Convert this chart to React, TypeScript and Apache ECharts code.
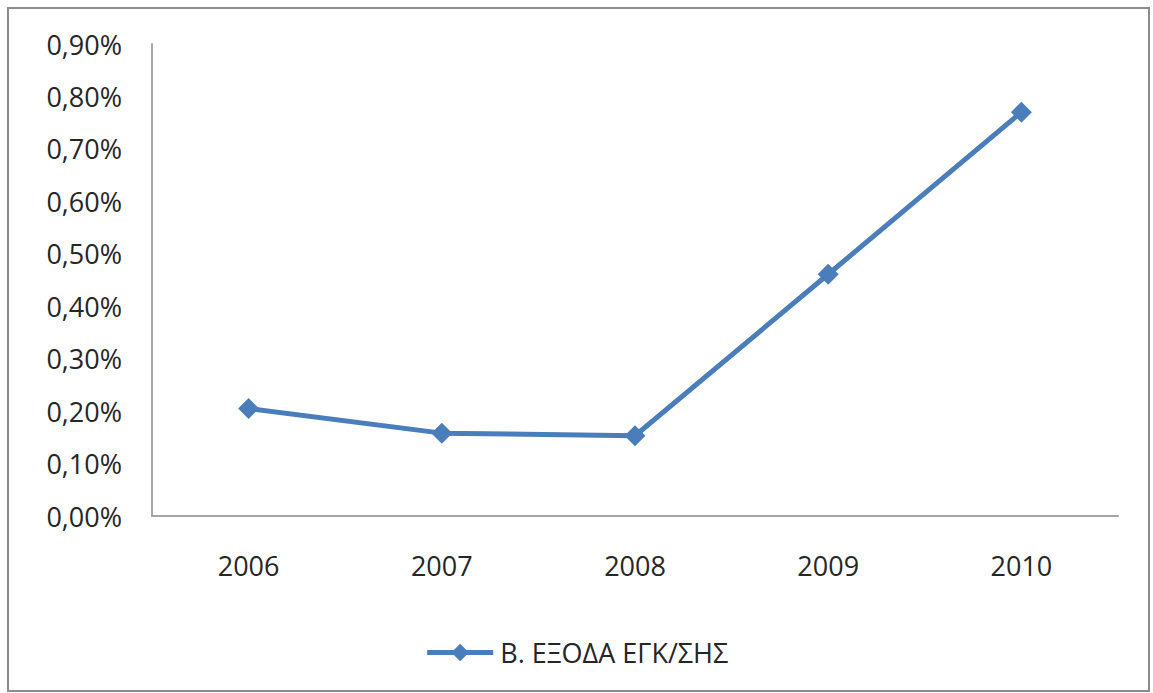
import React, { useEffect, useRef } from "react";
import * as echarts from "echarts";

const years = ["2006", "2007", "2008", "2009", "2010"];
const seriesName = "Β. ΕΞΟΔΑ ΕΓΚ/ΣΗΣ";
const values = [0.205, 0.158, 0.153, 0.461, 0.77];
const yMin = 0;
const yMax = 0.9;
const yStep = 0.1;

const FONT = "'Open Sans', sans-serif";
const BLUE = "#4a7ebb";

export default function App() {
  const ref = useRef<HTMLDivElement>(null);
  useEffect(() => {
    document.body.style.margin = "0";
    const chart = echarts.init(ref.current!, null, { renderer: "svg" });
    chart.setOption({
      animation: false,
      backgroundColor: "#ffffff",
      textStyle: { fontFamily: FONT },
      graphic: [
        {
          type: "rect",
          shape: { x: 8, y: 8, width: 1141, height: 683 },
          style: { fill: "none", stroke: "#8c8c8c", lineWidth: 2 },
          silent: true,
        },
      ],
      grid: { left: 152, right: 35, top: 44, bottom: 177, containLabel: false },
      xAxis: {
        type: "category",
        data: years,
        boundaryGap: true,
        axisLine: { lineStyle: { color: "#a6a6a6", width: 2 } },
        axisTick: { show: false },
        axisLabel: { color: "#262626", fontSize: 27, fontFamily: FONT, margin: 36 },
      },
      yAxis: {
        type: "value",
        min: yMin,
        max: yMax,
        interval: yStep,
        splitLine: { show: false },
        axisLine: { show: true, lineStyle: { color: "#a6a6a6", width: 2 } },
        axisTick: { show: false },
        axisLabel: {
          color: "#262626",
          fontSize: 27,
          fontFamily: FONT,
          margin: 30,
          formatter: (v: number) => v.toFixed(2).replace(".", ",") + "%",
        },
      },
      legend: {
        data: [seriesName],
        left: "center",
        top: 634,
        itemWidth: 66,
        itemHeight: 22,
        itemGap: 6,
        lineStyle: { width: 5, color: BLUE },
        textStyle: { color: "#262626", fontSize: 27, fontFamily: FONT, padding: [0, 0, 0, 2] },
      },
      series: [
        {
          name: seriesName,
          type: "line",
          data: values,
          symbol: "diamond",
          symbolSize: 21,
          lineStyle: { color: BLUE, width: 5 },
          itemStyle: { color: BLUE },
        },
      ],
    });
    return () => chart.dispose();
  }, []);
  return <div ref={ref} style={{ width: 1153, height: 693 }} />;
}
